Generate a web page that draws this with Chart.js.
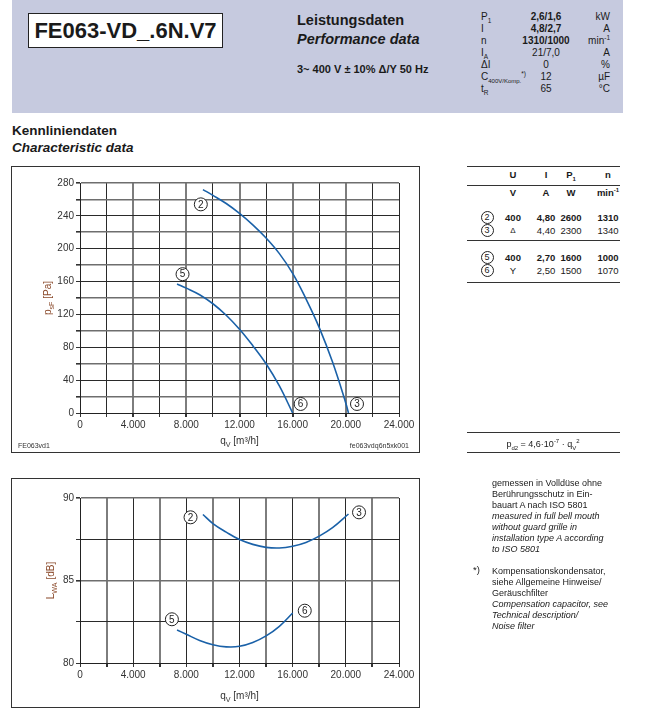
<!DOCTYPE html>
<html>
<head>
<meta charset="utf-8">
<script src="https://cdn.jsdelivr.net/npm/chart.js@4.4.0/dist/chart.umd.min.js"></script>
<style>
body{margin:0;width:653px;height:719px;position:relative;background:#fff;font-family:"Liberation Sans",Arial,sans-serif;color:#1a1a1a;overflow:hidden}
.a{position:absolute;white-space:nowrap}
#band{left:12px;top:0;width:611px;height:113px;background:#c6cadf}
#model{left:28px;top:13px;width:193px;height:33px;border:1px solid #222;background:#fff;font-weight:bold;font-size:22px;line-height:34px;text-align:center}
.hd{font-weight:bold;font-size:14.5px}
.pr{font-size:10px;line-height:12px}
.c{text-align:center}
.r{text-align:right}
.b{font-weight:bold}
.rule{position:absolute;height:0;border-top:1px solid #333;left:467px;width:153px}
.circ{display:inline-block;width:11px;height:11px;border:1px solid #222;border-radius:50%;font-size:9px;line-height:11px;text-align:center;font-weight:normal}
.tb{font-size:9.5px;line-height:12px;width:40px;text-align:center}
.frame{position:absolute;border:1px solid #333;left:11px;width:407px}
.note{font-size:9px;line-height:11px;left:492px}
sub,sup{line-height:0}
</style>
</head>
<body>
<div class="a" id="band"></div>
<div class="a" id="model">FE063-VD_.6N.V7</div>
<div class="a hd" style="left:297px;top:12px">Leistungsdaten</div>
<div class="a hd" style="left:297px;top:31px;font-style:italic">Performance data</div>
<div class="a b" style="left:297px;top:63px;font-size:11px">3~ 400 V ± 10% Δ/Y 50 Hz</div>

<div class="a pr" style="left:481px;top:11px">P<sub style="font-size:6.5px">1</sub></div>
<div class="a pr c b" style="left:516px;top:11px;width:60px">2,6/1,6</div>
<div class="a pr r" style="left:570px;top:11px;width:40px">kW</div>
<div class="a pr" style="left:481px;top:23px">I</div>
<div class="a pr c b" style="left:516px;top:23px;width:60px">4,8/2,7</div>
<div class="a pr r" style="left:570px;top:23px;width:40px">A</div>
<div class="a pr" style="left:481px;top:35px">n</div>
<div class="a pr c b" style="left:516px;top:35px;width:60px">1310/1000</div>
<div class="a pr r" style="left:570px;top:35px;width:40px">min<sup style="font-size:6.5px">-1</sup></div>
<div class="a pr" style="left:481px;top:47px">I<sub style="font-size:6.5px">A</sub></div>
<div class="a pr c" style="left:516px;top:47px;width:60px">21/7,0</div>
<div class="a pr r" style="left:570px;top:47px;width:40px">A</div>
<div class="a pr" style="left:481px;top:59px">ΔI</div>
<div class="a pr c" style="left:516px;top:59px;width:60px">0</div>
<div class="a pr r" style="left:570px;top:59px;width:40px">%</div>
<div class="a pr" style="left:481px;top:71px">C<sub style="font-size:6px">400V/Komp.</sub><sup style="font-size:6.5px">*)</sup></div>
<div class="a pr c" style="left:516px;top:71px;width:60px">12</div>
<div class="a pr r" style="left:570px;top:71px;width:40px">µF</div>
<div class="a pr" style="left:481px;top:83px">t<sub style="font-size:6.5px">R</sub></div>
<div class="a pr c" style="left:516px;top:83px;width:60px">65</div>
<div class="a pr r" style="left:570px;top:83px;width:40px">°C</div>

<div class="a b" style="left:12px;top:123px;font-size:13.5px">Kennliniendaten</div>
<div class="a b" style="left:12px;top:140px;font-size:13.5px;font-style:italic">Characteristic data</div>

<div class="frame" style="top:166px;height:285px"><canvas id="pq" width="407" height="285"></canvas></div>
<div class="a" style="left:18px;top:442px;font-size:7px;color:#333">FE063vd1</div>
<div class="a r" style="left:300px;top:442px;width:109px;font-size:7px;color:#333">fe063vdq6n5xk001</div>

<div class="frame" style="top:478px;height:228px"><canvas id="lw" width="407" height="228"></canvas></div>

<!-- table right -->
<div class="rule" style="top:166px"></div>
<div class="a tb b" style="left:493px;top:169px">U</div>
<div class="a tb b" style="left:526px;top:169px">I</div>
<div class="a tb b" style="left:551px;top:169px">P<sub style="font-size:6px">1</sub></div>
<div class="a tb b" style="left:588px;top:169px">n</div>
<div class="rule" style="top:185px"></div>
<div class="a tb b" style="left:493px;top:187px">V</div>
<div class="a tb b" style="left:526px;top:187px">A</div>
<div class="a tb b" style="left:551px;top:187px">W</div>
<div class="a tb b" style="left:588px;top:187px">min<sup style="font-size:6px">-1</sup></div>

<div class="a tb" style="left:467px;top:211px"><span class="circ">2</span></div>
<div class="a tb b" style="left:493px;top:212px">400</div>
<div class="a tb b" style="left:526px;top:212px">4,80</div>
<div class="a tb b" style="left:551px;top:212px">2600</div>
<div class="a tb b" style="left:588px;top:212px">1310</div>
<div class="a tb" style="left:467px;top:224px"><span class="circ">3</span></div>
<div class="a tb" style="left:493px;top:225px;font-size:8px">Δ</div>
<div class="a tb" style="left:526px;top:225px">4,40</div>
<div class="a tb" style="left:551px;top:225px">2300</div>
<div class="a tb" style="left:588px;top:225px">1340</div>
<div class="rule" style="top:240px"></div>
<div class="a tb" style="left:467px;top:251px"><span class="circ">5</span></div>
<div class="a tb b" style="left:493px;top:252px">400</div>
<div class="a tb b" style="left:526px;top:252px">2,70</div>
<div class="a tb b" style="left:551px;top:252px">1600</div>
<div class="a tb b" style="left:588px;top:252px">1000</div>
<div class="a tb" style="left:467px;top:264px"><span class="circ">6</span></div>
<div class="a tb" style="left:493px;top:265px">Y</div>
<div class="a tb" style="left:526px;top:265px">2,50</div>
<div class="a tb" style="left:551px;top:265px">1500</div>
<div class="a tb" style="left:588px;top:265px">1070</div>
<div class="rule" style="top:282px"></div>

<div class="rule" style="top:432px"></div>
<div class="a c" style="left:483px;top:439px;width:120px;font-size:9px;line-height:11px">p<sub style="font-size:6px">d2</sub> = 4,6·10<sup style="font-size:6px">-7</sup> · q<sub style="font-size:6px">V</sub><sup style="font-size:6px">2</sup></div>
<div class="rule" style="top:452px"></div>

<div class="a note" style="top:478px">gemessen in Volldüse ohne<br>Berührungsschutz in Ein-<br>bauart A nach ISO 5801<br><i>measured in full bell mouth<br>without guard grille in<br>installation type A according<br>to ISO 5801</i></div>
<div class="a" style="left:473px;top:564px;font-size:9.5px">*)</div>
<div class="a note" style="top:566px">Kompensationskondensator,<br>siehe Allgemeine Hinweise/<br>Geräuschfilter<br><i>Compensation capacitor, see<br>Technical description/<br>Noise filter</i></div>

<script>
// pressure curves (q_V in m3/h, p_sF in Pa)
const flow23 = [9250, 10000, 11000, 12000, 13000, 14000, 15000, 16000, 17000, 18000, 19000, 20000, 20200];
const press23 = [272, 265, 255, 243, 229, 213, 194, 170, 139, 104, 62, 12, 0];
const flow56 = [7300, 8000, 9000, 10000, 11000, 12000, 13000, 14000, 15000, 16000];
const press56 = [157, 152, 144, 133, 119, 102, 82, 60, 33, 0];

// sound power curves (L_WA in dB)
const flowNoise23 = [9250, 10000, 11000, 12000, 13000, 14000, 15000, 16000, 17000, 18000, 19000, 20200];
const lwa23 = [89.0, 88.45, 87.93, 87.48, 87.19, 87.01, 86.97, 87.08, 87.31, 87.69, 88.2, 89.03];
const flowNoise56 = [7300, 8000, 9000, 10000, 11000, 12000, 13000, 14000, 15000, 16000];
const lwa56 = [82.0, 81.74, 81.37, 81.11, 80.98, 81.01, 81.24, 81.64, 82.22, 83.03];

// circled curve numbers
const markNums = ['2', '5', '6', '3'];
const markFlowTop = [9090, 7715, 16600, 20840];
const markPressTop = [254, 169, 11, 11];
const markFlowBot = [8317, 6914, 16909, 20992];
const markLwaBot = [88.83, 82.65, 83.17, 89.13];

const FONT = '"Liberation Sans", Arial, sans-serif';
const LINE = '#1a61a8';

function pts(xs, ys) {
    return xs.map((x, i) => ({ x: x, y: ys[i] }));
}

function thousands(v) {
    return String(v).replace(/\B(?=(\d{3})+(?!\d))/g, '.');
}

// text with a subscript part, centred on (x, y)
function drawSub(ctx, parts, x, y, size, color, rotate) {
    ctx.save();
    ctx.translate(x, y);
    if (rotate) ctx.rotate(-Math.PI / 2);
    ctx.fillStyle = color;
    ctx.textBaseline = 'alphabetic';
    let total = 0;
    parts.forEach(p => {
        ctx.font = (p[1] ? size * 0.72 : size) + 'px ' + FONT;
        total += ctx.measureText(p[0]).width;
    });
    let cx = -total / 2;
    parts.forEach(p => {
        ctx.font = (p[1] ? size * 0.72 : size) + 'px ' + FONT;
        ctx.fillText(p[0], cx, size * 0.36 + (p[1] ? size * 0.3 : 0));
        cx += ctx.measureText(p[0]).width;
    });
    ctx.restore();
}

function makeChart(id, cfg) {
    const canvas = document.getElementById(id);
    const H = canvas.height;
    const decor = {
        id: 'decor',
        afterDraw(chart) {
            const ctx = chart.ctx;
            const xs = chart.scales.x, ys = chart.scales.y;
            const area = chart.chartArea;
            // circled curve numbers
            cfg.marks.x.forEach((mx, i) => {
                const px = xs.getPixelForValue(mx);
                const py = ys.getPixelForValue(cfg.marks.y[i]);
                ctx.save();
                ctx.beginPath();
                ctx.arc(px, py, 6.5, 0, Math.PI * 2);
                ctx.fillStyle = '#fff';
                ctx.fill();
                ctx.lineWidth = 1;
                ctx.strokeStyle = '#222';
                ctx.stroke();
                ctx.fillStyle = '#222';
                ctx.font = '10px ' + FONT;
                ctx.textAlign = 'center';
                ctx.textBaseline = 'middle';
                ctx.fillText(cfg.marks.n[i], px, py + 0.5);
                ctx.restore();
            });
            drawSub(ctx, [['q', false], ['V', true], [' [m³/h]', false]],
                (area.left + area.right) / 2, cfg.xTitleY, 10, '#333', false);
            drawSub(ctx, cfg.yTitle, cfg.yTitleX, (area.top + area.bottom) / 2, 10, '#8b4a2b', true);
        }
    };
    return new Chart(canvas, {
        type: 'scatter',
        data: {
            datasets: cfg.series.map(s => ({
                data: s,
                showLine: true,
                borderColor: LINE,
                borderWidth: 1.6,
                pointRadius: 0,
                tension: 0.4
            }))
        },
        options: {
            responsive: false,
            animation: false,
            layout: { padding: { left: 0, top: cfg.top, right: 20, bottom: 0 } },
            plugins: { legend: { display: false }, tooltip: { enabled: false } },
            scales: {
                x: {
                    type: 'linear', min: 0, max: 24000,
                    afterFit: s => { s.height = H - cfg.bottom; },
                    ticks: {
                        stepSize: 2000, padding: 2, color: '#333', font: { family: FONT, size: 10 },
                        maxRotation: 0, autoSkip: false,
                        callback: v => (v % 4000 === 0 ? thousands(v) : '')
                    },
                    grid: {
                        tickLength: 4, tickColor: '#333',
                        color: c => cfg.xGray(c.tick.value) ? '#7d7d7d' : '#2a2a2a',
                        lineWidth: c => cfg.xGray(c.tick.value) ? 2 : 1
                    },
                    border: { color: '#222', width: 1 }
                },
                y: {
                    type: 'linear', min: cfg.yMin, max: cfg.yMax,
                    afterFit: s => { s.width = 68; },
                    ticks: {
                        stepSize: cfg.yStep, padding: 2, color: '#333', font: { family: FONT, size: 10 },
                        autoSkip: false,
                        callback: cfg.yLabel
                    },
                    grid: {
                        tickLength: 4, tickColor: '#333',
                        color: c => cfg.yGray(c.tick.value) ? '#6e6e6e' : '#2a2a2a',
                        lineWidth: c => cfg.yGray(c.tick.value) ? 1.6 : 1
                    },
                    border: { color: '#222', width: 1 }
                }
            }
        },
        plugins: [decor]
    });
}

makeChart('pq', {
    series: [pts(flow23, press23), pts(flow56, press56)],
    marks: { n: markNums, x: markFlowTop, y: markPressTop },
    top: 16, bottom: 246,
    yMin: 0, yMax: 280, yStep: 20,
    yLabel: v => (v % 40 === 0 ? v : ''),
    xGray: v => v % 4000 === 0 && v > 0 && v < 24000,
    yGray: v => v % 40 !== 0 || v === 280,
    xTitleY: 273,
    yTitle: [['p', false], ['sF', true], [' [Pa]', false]],
    yTitleX: 35
});

makeChart('lw', {
    series: [pts(flowNoise23, lwa23), pts(flowNoise56, lwa56)],
    marks: { n: markNums, x: markFlowBot, y: markLwaBot },
    top: 19, bottom: 184,
    yMin: 80, yMax: 90, yStep: 2.5,
    yLabel: v => (v % 5 === 0 ? v : ''),
    xGray: v => v % 4000 !== 0,
    yGray: v => v === 85 || v === 90,
    xTitleY: 216,
    yTitle: [['L', false], ['WA', true], [' [dB]', false]],
    yTitleX: 38
});
</script>
</body>
</html>
